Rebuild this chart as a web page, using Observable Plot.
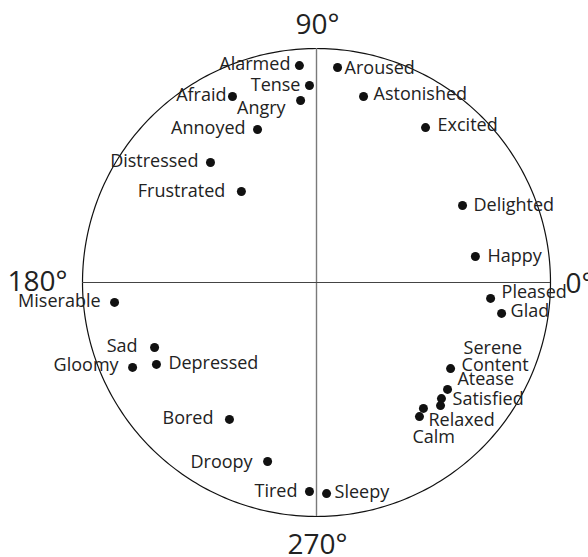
<!DOCTYPE html>
<html>
<head>
<meta charset="utf-8">
<script src="https://cdn.jsdelivr.net/npm/d3@7"></script>
<script src="https://cdn.jsdelivr.net/npm/@observablehq/plot@0.6"></script>
<style>
  html, body { margin: 0; padding: 0; background: #fff; }
  #chart svg { display: block; }
</style>
</head>
<body>
<div id="chart"></div>
<script>
// Affect words (circumplex) — valence (x) and arousal (y), unit circle radius = 1
const emotions = ["Alarmed","Tense","Angry","Afraid","Annoyed","Distressed","Frustrated",
  "Aroused","Astonished","Excited","Delighted","Happy","Pleased","Glad",
  "Miserable","Sad","Gloomy","Depressed","Bored","Droopy","Tired","Sleepy",
  "Serene","Content","Atease","Satisfied","Relaxed","Calm"];
const valence = [-0.073,-0.030,-0.068,-0.359,-0.252,-0.453,-0.321,
  0.090,0.201,0.466,0.624,0.679,0.744,0.791,
  -0.863,-0.692,-0.786,-0.684,-0.372,-0.209,-0.030,0.043,
  0.573,0.560,0.534,0.530,0.457,0.440];
const arousal = [0.927,0.842,0.778,0.795,0.654,0.513,0.389,
  0.919,0.795,0.662,0.329,0.111,-0.068,-0.132,
  -0.085,-0.278,-0.363,-0.350,-0.585,-0.765,-0.893,-0.902,
  -0.368,-0.457,-0.496,-0.526,-0.538,-0.573];

// Axis direction labels
const degreeLabels = ["0°","90°","180°","270°"];
const degreeX = [1, 0, -1, 0];
const degreeY = [0, 1, 0, -1];

// Label placement (anchor, pixel offsets) — styling only
const labelPlacement = {
  Alarmed:["end",-9,-1], Tense:["end",-9,0], Angry:["end",-15,8], Afraid:["end",-6,-1.5],
  Annoyed:["end",-12,-1], Distressed:["end",-12,-1], Frustrated:["end",-16,0],
  Aroused:["start",7,0.5], Astonished:["start",10,-2], Excited:["start",12,-2],
  Delighted:["start",11,0], Happy:["start",12,0], Pleased:["start",11,-6], Glad:["start",9,-2],
  Miserable:["end",-14,-1], Sad:["end",-17,-1], Gloomy:["end",-14,-2], Depressed:["start",12,-1],
  Bored:["end",-16,-1], Droopy:["end",-15,1], Tired:["end",-12,0], Sleepy:["start",8,-1],
  Serene:["start",13,-20], Content:["start",14,-24], Atease:["start",16,-19],
  Satisfied:["start",12,-6], Relaxed:["start",5,12], Calm:["start",-7,21]
};
const degreePlacement = {
  "0°":["start",15,2], "90°":["middle",1,-23.5], "180°":["end",-15,-0.5], "270°":["middle",1,28.5]
};

const points = emotions.map((name, i) => ({name, x: valence[i], y: arousal[i]}));
const degrees = degreeLabels.map((t, i) => ({t, x: degreeX[i], y: degreeY[i]}));
const circle = d3.range(0, 361, 1).map(a => ({x: Math.cos(a * Math.PI / 180), y: Math.sin(a * Math.PI / 180)}));

const W = 588, H = 557, R = 234, CX = 316, CY = 282;

const chart = Plot.plot({
  width: W,
  height: H,
  margin: 0,
  x: {domain: [-CX / R, (W - CX) / R], axis: null},
  y: {domain: [-(H - CY) / R, CY / R], axis: null},
  style: {fontFamily: "'Open Sans', sans-serif", background: "#fff", overflow: "visible"},
  marks: [
    Plot.line(circle, {x: "x", y: "y", stroke: "#111", strokeWidth: 1.2}),
    Plot.ruleX([0], {y1: -1, y2: 1, stroke: "#7a7a7a", strokeWidth: 1.4}),
    Plot.ruleY([0], {x1: -1, x2: 1, stroke: "#444", strokeWidth: 1.2}),
    Plot.dot(points, {x: "x", y: "y", r: 4.5, fill: "#111", stroke: "none"}),
    ...points.map(p => {
      const [anchor, dx, dy] = labelPlacement[p.name];
      return Plot.text([p], {x: "x", y: "y", text: "name", textAnchor: anchor, dx, dy,
        lineAnchor: "middle", fontSize: 18, fill: "#222"});
    }),
    ...degrees.map(d => {
      const [anchor, dx, dy] = degreePlacement[d.t];
      return Plot.text([d], {x: "x", y: "y", text: "t", textAnchor: anchor, dx, dy,
        lineAnchor: "middle", fontSize: 28, fill: "#222"});
    })
  ]
});
document.getElementById("chart").appendChild(chart);
</script>
</body>
</html>
